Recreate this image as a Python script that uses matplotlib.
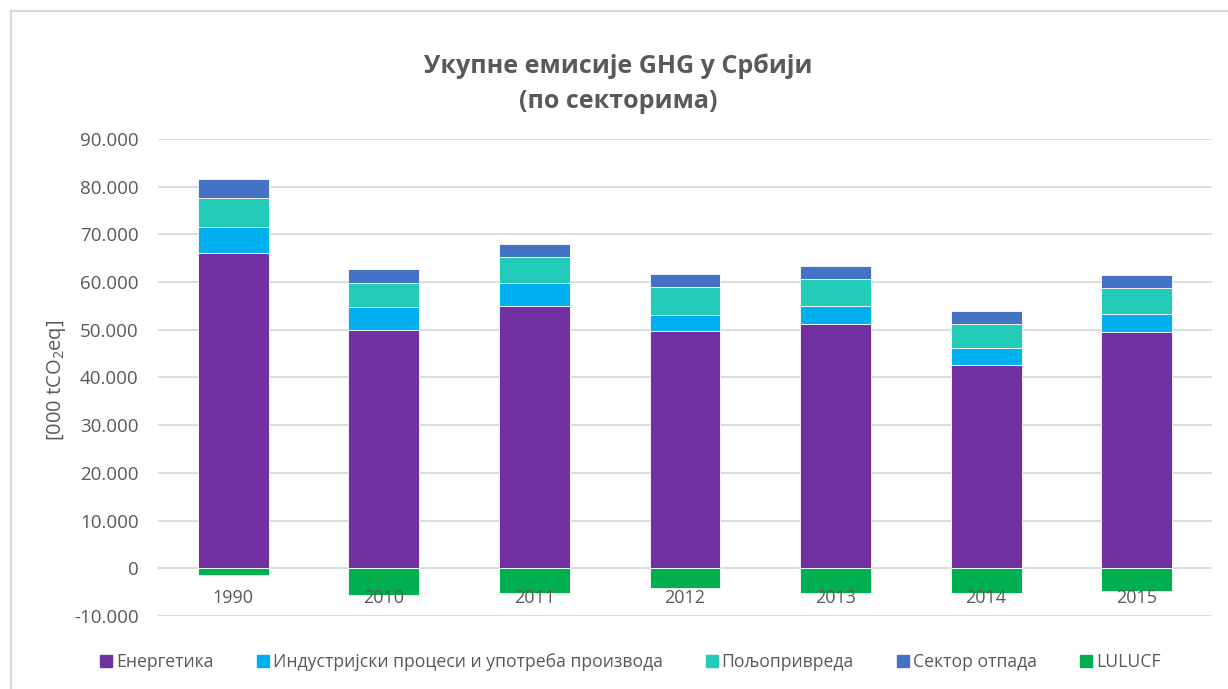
import numpy as np
import matplotlib.pyplot as plt
from matplotlib.lines import Line2D

plt.rcParams['font.family'] = ['Open Sans', 'DejaVu Sans']
plt.rcParams['mathtext.default'] = 'regular'

years = ['1990', '2010', '2011', '2012', '2013', '2014', '2015']
energetika = [66040, 50040, 55010, 49770, 51230, 42560, 49480]
industrija = [5530, 4760, 4890, 3270, 3700, 3560, 3770]
poljoprivreda = [6140, 5100, 5450, 5950, 5740, 5180, 5450]
otpad = [3990, 2780, 2720, 2730, 2790, 2720, 2730]
lulucf = [-1500, -5660, -5160, -4190, -5090, -5090, -4680]

names = ['Енергетика', 'Индустријски процеси и употреба производа',
         'Пољопривреда', 'Сектор отпада', 'LULUCF']
colors = ['#7030A0', '#00B0F0', '#22CCB8', '#4472C4', '#00B050']
gray = '#595959'

fig = plt.figure(figsize=(12.28, 6.89), dpi=100)
ax = fig.add_axes([158/1228, 1 - 616/689, (1212 - 158)/1228, (616 - 139)/689])

x = np.arange(len(years))
w = 0.47
bottom = np.zeros(len(years))
for vals, name, c in zip([energetika, industrija, poljoprivreda, otpad], names[:4], colors[:4]):
    ax.bar(x, vals, w, bottom=bottom, color=c, edgecolor='white', linewidth=0.6,
           label=name, zorder=2)
    bottom += np.array(vals)
ax.bar(x, lulucf, w, color=colors[4], edgecolor='white', linewidth=0.6,
       label=names[4], zorder=2)

ax.set_ylim(-10000, 90000)
ax.set_xlim(-0.5, len(years) - 0.5)
ax.set_yticks(np.arange(-10000, 90001, 10000))
ax.set_yticklabels([f'{v:,}'.replace(',', '.') for v in range(-10000, 90001, 10000)])
ax.tick_params(axis='y', length=0, pad=14, labelsize=13.5, labelcolor=gray)
ax.set_xticks([])
ax.grid(axis='y', color='#D9D9D9', linewidth=1.3)
ax.set_axisbelow(True)
for s in ax.spines.values():
    s.set_visible(False)

for i, y in enumerate(years):
    ax.annotate(y, (i, 0), xytext=(0, -15), textcoords='offset points',
                ha='center', va='top', fontsize=13, color=gray, zorder=5)

fig.text(56/1228, 1 - 380/689, '[000 tCO$_2$eq]', rotation=90, ha='center',
         va='center', fontsize=14.5, color=gray)

fig.text(618/1228, 1 - 66/689, 'Укупне емисије GHG у Србији', ha='center',
         va='center', fontsize=18, fontweight='bold', color=gray)
fig.text(618/1228, 1 - 101/689, '(по секторима)', ha='center',
         va='center', fontsize=18, fontweight='bold', color=gray)

handles = [Line2D([], [], marker='s', linestyle='', markersize=8, color=c) for c in colors]
fig.legend(handles, names, loc='center', bbox_to_anchor=(629/1228, 1 - 662/689),
           ncol=5, frameon=False, fontsize=12.7, labelcolor=gray,
           handletextpad=0.05, columnspacing=2.3, handlelength=1.0)

# chart border (top and left edges visible)
fig.add_artist(Line2D([11/1228, 1], [1 - 11/689, 1 - 11/689], color='#D9D9D9', lw=1.5,
                      transform=fig.transFigure))
fig.add_artist(Line2D([11/1228, 11/1228], [0, 1 - 11/689], color='#D9D9D9', lw=1.5,
                      transform=fig.transFigure))

fig.savefig('out.png', dpi=100)
